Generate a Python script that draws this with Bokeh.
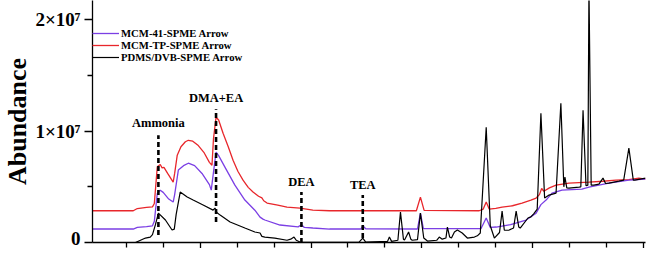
from bokeh.plotting import figure
from bokeh.models import FixedTicker, Legend, LegendItem, Range1d, ColumnDataSource
from bokeh.embed import file_html
from bokeh.resources import INLINE
from bokeh.core.properties import value

# Retention time (min) and abundance (x10^6)
mcm41_t = [0.09, 1.19, 1.30, 1.55, 1.71, 1.76, 1.84, 1.92, 2.00, 2.15,
           2.27, 2.31, 2.41, 2.55, 2.68, 2.85, 3.05, 3.25, 3.30, 3.36,
           3.43, 3.50, 3.67, 3.94, 4.21, 4.48, 4.62, 4.70, 4.75, 5.16,
           5.65, 5.74, 5.82, 6.05, 6.50, 7.35, 7.40, 7.48, 8.88, 8.96,
           9.04, 10.60, 10.74, 10.85, 11.01, 11.40, 11.82, 12.09, 12.22, 12.36,
           12.52, 12.79, 13.33, 13.52, 14.06, 14.60, 15.05]
mcm41_a = [1.21, 1.21, 1.35, 1.42, 1.50, 1.90, 4.40, 4.70, 4.50, 3.90,
           3.63, 4.30, 6.50, 6.90, 7.12, 6.90, 6.20, 5.20, 4.70, 6.30,
           8.11, 7.80, 6.77, 5.15, 3.81, 2.90, 2.28, 2.10, 2.02, 1.57,
           1.40, 1.60, 1.35, 1.30, 1.21, 1.21, 1.50, 1.23, 1.21, 2.64,
           1.25, 1.25, 2.20, 1.35, 1.39, 1.60, 2.02, 2.64, 3.40, 3.81,
           4.44, 4.70, 4.79, 4.97, 5.33, 5.60, 5.69]

mcmtp_t = [0.09, 1.19, 1.30, 1.55, 1.71, 1.76, 1.84, 1.92, 1.97, 2.02,
           2.12, 2.27, 2.31, 2.38, 2.48, 2.60, 2.68, 2.80, 2.95, 3.10,
           3.25, 3.32, 3.36, 3.43, 3.50, 3.62, 3.76, 3.89, 4.02, 4.16,
           4.30, 4.43, 4.58, 4.67, 4.72, 4.81, 5.10, 5.35, 5.70, 6.05,
           6.50, 8.85, 8.96, 9.06, 10.55, 10.66, 10.74, 10.82, 11.00, 11.17,
           11.45, 11.71, 11.95, 12.09, 12.18, 12.24, 12.30, 12.45, 12.63, 12.98,
           13.52, 13.90, 14.25, 14.60, 14.87, 15.05]
mcmtp_a = [2.85, 2.85, 3.05, 3.15, 3.20, 3.50, 6.80, 7.00, 6.70, 6.75,
           6.20, 5.42, 6.20, 7.84, 8.60, 9.05, 9.18, 9.10, 8.70, 8.10,
           7.20, 6.94, 9.30, 11.25, 11.00, 9.81, 8.60, 7.39, 6.40, 5.60,
           4.95, 4.53, 4.15, 4.00, 3.75, 3.54, 3.35, 3.18, 3.09, 2.91,
           2.85, 2.85, 4.08, 2.88, 2.85, 3.00, 3.63, 3.00, 3.06, 3.18,
           3.30, 3.54, 3.80, 3.99, 4.30, 4.85, 4.60, 4.90, 5.15, 5.33,
           5.42, 5.50, 5.60, 5.65, 5.78, 5.69]

pdms_t = [0.09, 1.25, 1.52, 1.65, 1.71, 1.79, 1.87, 2.06, 2.24, 2.30,
          2.35, 2.46, 2.65, 2.81, 3.08, 3.35, 3.40, 3.45, 3.54, 3.81,
          4.21, 4.48, 4.62, 4.67, 4.75, 5.02, 5.35, 5.45, 5.54, 5.60,
          5.70, 6.05, 7.30, 7.40, 7.48, 8.07, 8.12, 8.18, 8.35, 8.42,
          8.50, 8.53, 8.64, 8.70, 8.74, 8.88, 8.96, 9.05, 9.15, 9.40,
          9.47, 9.55, 9.65, 9.69, 9.75, 9.80, 9.88, 9.96, 10.09, 10.23,
          10.42, 10.50, 10.58, 10.74, 10.85, 10.96, 11.10, 11.17, 11.23, 11.36,
          11.48, 11.55, 11.62, 11.66, 11.87, 11.95, 12.03, 12.12, 12.22, 12.32,
          12.44, 12.63, 12.76, 12.84, 12.87, 12.92, 12.98, 13.25, 13.30, 13.36,
          13.44, 13.49, 13.52, 13.58, 13.65, 13.79, 13.90, 13.97, 14.06, 14.33,
          14.46, 14.60, 14.72, 14.76, 15.05]
pdms_a = [0.00, 0.00, 0.40, 0.49, 0.70, 1.60, 2.64, 2.02, 1.12, 1.20,
          2.50, 4.53, 4.08, 3.81, 3.36, 2.91, 3.09, 2.70, 2.46, 1.84,
          1.30, 0.94, 0.85, 0.55, 0.49, 0.40, 0.20, 0.30, 0.49, 0.20,
          0.04, 0.02, 0.04, 0.40, 0.04, 0.10, 0.49, 0.10, 0.20, 2.73,
          0.30, 0.22, 0.94, 0.30, 0.20, 0.25, 2.64, 0.40, 0.13, 0.20,
          0.49, 0.30, 0.40, 1.39, 0.50, 0.40, 0.94, 1.12, 0.85, 0.40,
          0.49, 0.60, 0.85, 10.35, 1.50, 0.40, 0.90, 2.82, 1.10, 1.12,
          1.30, 2.82, 1.40, 1.30, 2.20, 2.30, 2.60, 3.00, 11.60, 4.00,
          4.26, 4.44, 12.50, 5.00, 5.87, 4.90, 4.88, 4.97, 5.00, 11.87,
          5.10, 5.15, 23.00, 5.15, 5.15, 5.24, 5.78, 5.30, 5.33, 5.51,
          5.60, 8.47, 5.60, 5.60, 5.78]

annot_names = ["Ammonia", "DMA+EA", "DEA", "TEA"]
annot_t = [1.87, 3.43, 5.74, 7.40]
annot_top = [9.63, 11.96, 4.53, 4.26]
annot_bottom = [0.67, 1.84, -0.05, 0.40]
annot_text_y = [10.75, 12.95, 5.42, 5.15]

series_names = ["MCM-41-SPME Arrow", "MCM-TP-SPME Arrow", "PDMS/DVB-SPME Arrow"]
series_colors = ["#7b3fe4", "#e8262b", "#000000"]

y_ticks = [0, 10, 20]
y_minor = [5, 15]
y_labels = ["0", "1×10⁷", "2×10⁷"]
x_ticks = [3, 6, 9, 12, 15]
x_minor = [1, 2, 4, 5, 7, 8, 10, 11, 13, 14]

serif = "Liberation Serif"

p = figure(frame_width=553, frame_height=242, output_backend="svg",
           toolbar_location=None,
           x_range=Range1d(0.087, 15.05), y_range=Range1d(0, 21.73),
           min_border_left=92, min_border_right=1, min_border_top=0,
           min_border_bottom=0)
p.outline_line_color = None
p.xgrid.visible = False
p.ygrid.visible = False
p.background_fill_color = "white"

r_red = p.line(mcmtp_t, mcmtp_a, color=series_colors[1], line_width=1.3)
r_purple = p.line(mcm41_t, mcm41_a, color=series_colors[0], line_width=1.3)
r_black = p.line(pdms_t, pdms_a, color=series_colors[2], line_width=1.2)

src = ColumnDataSource(dict(t=annot_t, top=annot_top, bottom=annot_bottom,
                            ty=annot_text_y, name=annot_names))
p.segment(x0="t", y0="bottom", x1="t", y1="top", source=src, color="black",
          line_width=2.6, line_dash="5 3")
p.text(x="t", y="ty", text="name", source=src, text_align="center",
       text_baseline="middle", text_font=value(serif), text_font_style="bold",
       text_font_size="12.5px", text_color="black")

# axes
ya = p.yaxis[0]
ya.ticker = FixedTicker(ticks=y_ticks, minor_ticks=y_minor)
ya.major_label_overrides = {k: v for k, v in zip(y_ticks, y_labels)}
ya.major_label_text_font = serif
ya.major_label_text_font_style = "bold"
ya.major_label_text_font_size = "19px"
ya.major_label_text_color = "black"
ya.major_label_standoff = 4
ya.major_tick_out = 8
ya.major_tick_in = 0
ya.minor_tick_out = 5
ya.minor_tick_in = 0
ya.axis_line_width = 1.3
ya.axis_line_color = "black"
ya.major_tick_line_width = 1.3
ya.minor_tick_line_width = 1.3
ya.axis_label = "Abundance"
ya.axis_label_text_font = serif
ya.axis_label_text_font_style = "bold"
ya.axis_label_text_font_size = "26px"
ya.axis_label_text_color = "black"
ya.axis_label_standoff = 0

xa = p.xaxis[0]
xa.ticker = FixedTicker(ticks=x_ticks, minor_ticks=x_minor)
xa.major_label_overrides = {k: "" for k in x_ticks}
xa.major_label_text_font_size = "1px"
xa.major_label_standoff = 0
xa.axis_label = None
xa.axis_label_standoff = 0
xa.major_tick_out = 6
xa.major_tick_in = 0
xa.minor_tick_out = 5
xa.minor_tick_in = 0
xa.axis_line_width = 1.3
xa.axis_line_color = "black"
xa.major_tick_line_width = 1.3
xa.minor_tick_line_width = 1.3

legend = Legend(items=[LegendItem(label=series_names[0], renderers=[r_purple]),
                       LegendItem(label=series_names[1], renderers=[r_red]),
                       LegendItem(label=series_names[2], renderers=[r_black])],
                location=(0, 179))
legend.padding = 0
legend.margin = 0
legend.spacing = 0
legend.glyph_width = 27
legend.glyph_height = 12
legend.label_height = 12
legend.label_standoff = 2
legend.label_text_font = serif
legend.label_text_font_style = "bold"
legend.label_text_font_size = "10.7px"
legend.label_text_color = "black"
legend.border_line_alpha = 0
legend.background_fill_alpha = 0
p.add_layout(legend, "center")

open("out.html", "w").write(file_html(p, INLINE))
